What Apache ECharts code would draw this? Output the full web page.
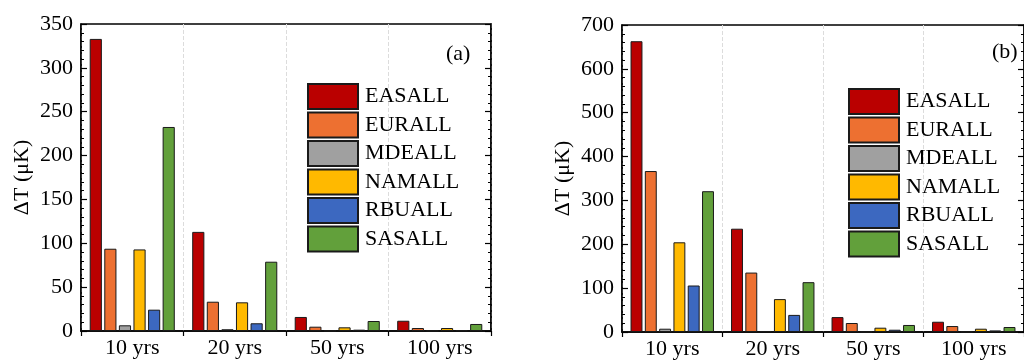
<!DOCTYPE html>
<html>
<head>
<meta charset="utf-8">
<title>ΔT bars</title>
<script src="https://cdn.jsdelivr.net/npm/echarts@6/dist/echarts.min.js"></script>
<style>
    html, body { margin: 0; padding: 0; background: #fff; }
    #chart { width: 1024px; height: 360px; }
</style>
</head>
<body>
<div id="chart"></div>
<script>
// 数据
const categories = ['10 yrs', '20 yrs', '50 yrs', '100 yrs'];
const seriesNames = ['EASALL', 'EURALL', 'MDEALL', 'NAMALL', 'RBUALL', 'SASALL'];
const colors = ['#BA0000', '#ED7031', '#A0A0A0', '#FFB900', '#3C68C0', '#62A03B'];

// (a)
const easallA = [333, 113, 16, 11.7];
const eurallA = [93.8, 33.4, 4.9, 3.4];
const mdeallA = [6.5, 2, 0.3, 0.2];
const namallA = [93, 32.7, 4.2, 3.4];
const rbuallA = [24.3, 8.8, 1.5, 0.8];
const sasallA = [232.6, 79, 11.4, 8];

// (b)
const easallB = [663, 235.5, 34, 23.4];
const eurallB = [367, 135.5, 20.5, 13.6];
const mdeallB = [7.5, 2.3, 0.3, 0.2];
const namallB = [204.5, 75, 9.8, 7.5];
const rbuallB = [106, 39, 5.2, 3.6];
const sasallB = [321, 113.6, 16, 11.4];

const yTicksA = [0, 50, 100, 150, 200, 250, 300, 350];
const yTicksB = [0, 100, 200, 300, 400, 500, 600, 700];

document.addEventListener('DOMContentLoaded', function() {
    const font = "'Liberation Serif', 'Times New Roman', serif";
    const fs = 22;
    const dataA = [easallA, eurallA, mdeallA, namallA, rbuallA, sasallA];
    const dataB = [easallB, eurallB, mdeallB, namallB, rbuallB, sasallB];

    function xAxis(gridIndex) {
        return {
            type: 'category',
            gridIndex: gridIndex,
            data: categories,
            axisLine: { lineStyle: { color: '#000', width: 1.5 } },
            axisTick: { show: true, length: 5, inside: false, lineStyle: { color: '#000', width: 1.2 } },
            axisLabel: { color: '#000', fontFamily: font, fontSize: fs, margin: 6 },
            splitLine: { show: true, lineStyle: { color: '#dcdcdc', type: 'dashed', width: 1 } }
        };
    }

    function yAxis(gridIndex, ticks, pos, showLabel) {
        return {
            type: 'value',
            gridIndex: gridIndex,
            position: pos,
            min: ticks[0],
            max: ticks[ticks.length - 1],
            interval: ticks[1] - ticks[0],
            name: showLabel ? 'ΔT (μK)' : '',
            nameLocation: 'middle',
            nameGap: 48,
            nameTextStyle: { color: '#000', fontFamily: font, fontSize: fs },
            axisLine: { show: true, lineStyle: { color: '#000', width: 1.5 } },
            axisTick: { show: true, inside: true, length: 6, lineStyle: { color: '#000', width: 1.2 } },
            minorTick: { show: true, splitNumber: 5, length: 3, lineStyle: { color: '#000', width: 1 } },
            axisLabel: { show: showLabel, color: '#000', fontFamily: font, fontSize: fs, margin: 8 },
            splitLine: { show: false }
        };
    }

    function barSeries(data, gridIndex) {
        return seriesNames.map(function(name, i) {
            return {
                name: name,
                type: 'bar',
                xAxisIndex: gridIndex,
                yAxisIndex: gridIndex * 2,
                data: data[i],
                barCategoryGap: '17%',
                barGap: '20%',
                itemStyle: { color: colors[i], borderColor: '#1a1a1a', borderWidth: 1 }
            };
        });
    }

    function legend(left, top) {
        return {
            orient: 'vertical',
            left: left,
            top: top,
            padding: 0,
            data: seriesNames,
            icon: 'rect',
            itemWidth: 50,
            itemHeight: 25,
            itemGap: 1.5,
            textStyle: { color: '#000', fontFamily: font, fontSize: fs, lineHeight: 25, padding: [0, 0, 0, 2] }
        };
    }

    const chart = echarts.init(document.getElementById('chart'));
    chart.setOption({
        animation: false,
        color: colors,
        grid: [
            { left: 81, top: 24, width: 410, height: 307, show: true, borderColor: '#000', borderWidth: 1.5 },
            { left: 622, top: 25, width: 412, height: 308, show: true, borderColor: '#000', borderWidth: 1.5 }
        ],
        legend: [legend(307, 83), legend(848, 88)],
        xAxis: [xAxis(0), xAxis(1)],
        yAxis: [
            yAxis(0, yTicksA, 'left', true),
            yAxis(0, yTicksA, 'right', false),
            yAxis(1, yTicksB, 'left', true),
            yAxis(1, yTicksB, 'right', false)
        ],
        graphic: [
            { type: 'text', left: 446, top: 43, style: { text: '(a)', fontFamily: font, fontSize: fs, fill: '#000' } },
            { type: 'text', left: 992, top: 41, style: { text: '(b)', fontFamily: font, fontSize: fs, fill: '#000' } }
        ],
        series: barSeries(dataA, 0).concat(barSeries(dataB, 1))
    });

    window.addEventListener('resize', function() {
        chart.resize();
    });
});
</script>
</body>
</html>
